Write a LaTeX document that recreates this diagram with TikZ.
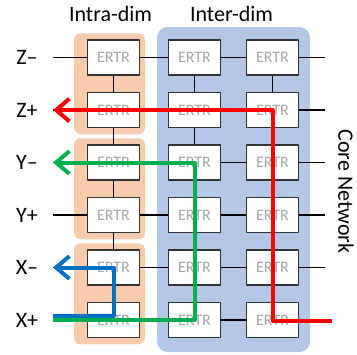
\documentclass[tikz,border=0pt]{standalone}
\usepackage{fontspec}
\setmainfont{Carlito}
\usetikzlibrary{arrows.meta}
\definecolor{intrabg}{RGB}{248,203,173}
\definecolor{interbg}{RGB}{180,199,231}
\definecolor{pathred}{RGB}{255,0,0}
\definecolor{pathgreen}{RGB}{0,176,80}
\definecolor{pathblue}{RGB}{0,112,192}
\tikzset{
	ertr/.style={draw=black!80, fill=white, line width=1.1pt, minimum width=39pt, minimum height=26pt,
		inner sep=0pt, text=black!35, font=\fontsize{12}{14}\selectfont},
	link/.style={line width=1.1pt},
	lbl/.style={font=\fontsize{16.5}{19}\selectfont},
	route/.style={line width=3pt, -{Straight Barb[length=10pt,width=17pt,line width=3pt]}},
}
\begin{document}
\begin{tikzpicture}[x=0.75pt, y=-0.75pt, line join=round]
			\useasboundingbox (0,0) rectangle (357,354);
			
			% Nền của hai nhóm chiều
			\fill[interbg, rounded corners=8pt] (157,27) rectangle (310,352);
			\foreach \yc in {83.75, 188.75, 293.75} {
				\fill[intrabg, rounded corners=5pt] (74,\yc-50.5) rectangle (145,\yc+50.5);
			}
			
			% Các bộ định tuyến ERTR theo hàng
			\foreach \r/\t [count=\i from 0] in {Zm/{Z--}, Zp/{Z+}, Ym/{Y--}, Yp/{Y+}, Xm/{X--}, Xp/{X+}} {
				\pgfmathsetmacro{\yy}{57.5+52.5*\i}
				\node[lbl] (\r-lab) at (27,\yy) {\t};
				\coordinate (\r-w) at (53,\yy);
				\coordinate (\r-e) at (325,\yy);
				\node[ertr] (\r-1) at (113.5,\yy) {ERTR};
				\node[ertr] (\r-2) at (194.5,\yy) {ERTR};
				\node[ertr] (\r-3) at (272.5,\yy) {ERTR};
			}
			
			% Các đường nối
			\foreach \r in {Zm, Zp, Ym, Yp, Xm, Xp} {
				\draw[link] (\r-w) -- (\r-1) -- (\r-2) -- (\r-3) -- (\r-e);
			}
			\foreach \a/\b in {Zm/Zp, Zp/Ym, Ym/Yp, Yp/Xm, Xm/Xp} {
				\foreach \c in {1,2,3} {
					\draw[link] (\a-\c) -- (\b-\c);
				}
			}
			
			% Tiêu đề
			\node[lbl] (intra) at (110.5,14) {Intra-dim};
			\node[lbl] (inter) at (231.5,14) {Inter-dim};
			\node[lbl, rotate=-90] (core) at (346,191.5) {Core Network};
			
			% Các tuyến đường
			\coordinate (redin) at (332,320.5);
			\coordinate (bluein) at (53,315.5);
			\draw[route, pathred] (redin) -| (Zp-3.center) -- (Zp-w);
			\draw[route, pathgreen] (Xp-w) -| (Ym-2.center) -- (Ym-w);
			\draw[route, pathblue] (bluein) -| (Xm-1.center) -- (Xm-w);
		\end{tikzpicture}
\end{document}
